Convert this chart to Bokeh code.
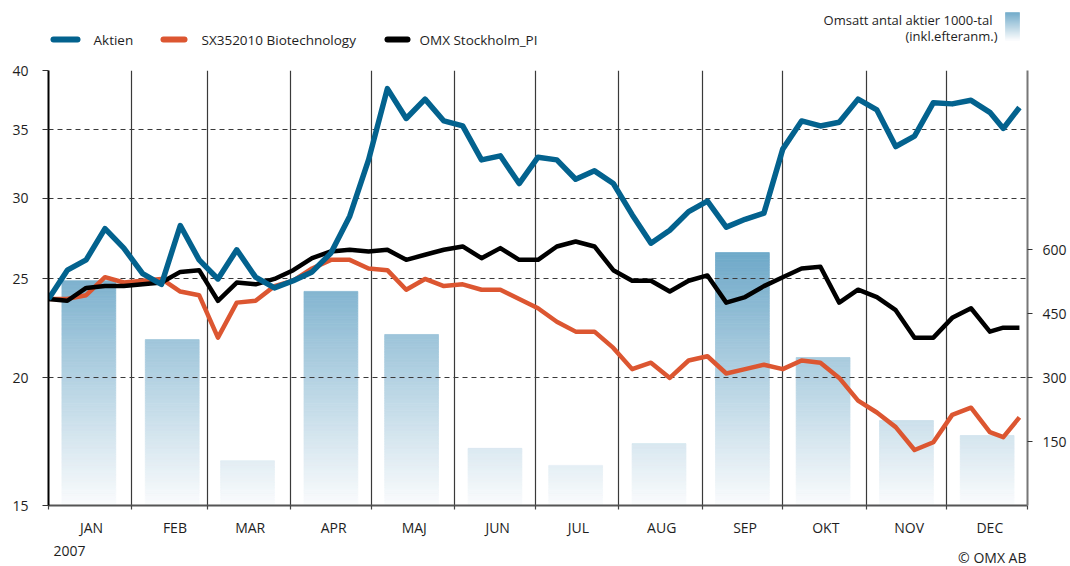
from bokeh.plotting import figure
from bokeh.models import (Range1d, LinearScale, LinearAxis, FixedTicker,
                          PrintfTickFormatter)
from bokeh.layouts import column
from bokeh.embed import file_html
from bokeh.resources import INLINE
from bokeh.core.properties import value

FONT = "Open Sans"
TXT = "#1e1e1e"
BLUE = "#03628e"
ORANGE = "#dc5631"
BLACK = "#000000"

# ---------------- data ----------------
months = ["JAN", "FEB", "MAR", "APR", "MAJ", "JUN", "JUL", "AUG", "SEP", "OKT", "NOV", "DEC"]
month_start = [0, 31, 59, 90, 120, 151, 181, 212, 243, 273, 304, 334]
year_days = 364
volume = [527, 389, 105, 502, 401, 134, 94, 145, 593, 347, 199, 164]   # 1000-tal

week_day = list(range(0, 351, 7)) + [355, 361]
aktien = [23.9, 25.5, 26.1, 28.0, 26.8, 25.3, 24.7, 28.2, 26.1, 25.0,
          26.7, 25.1, 24.5, 24.9, 25.4, 26.5, 28.8, 32.7, 38.4, 35.9,
          37.5, 35.7, 35.3, 32.7, 33.0, 31.0, 32.9, 32.7, 31.3, 31.9,
          31.0, 28.9, 27.1, 27.9, 29.1, 29.8, 28.1, 28.6, 29.0, 33.5,
          35.7, 35.3, 35.6, 37.5, 36.6, 33.7, 34.5, 37.2, 37.1, 37.4,
          36.4, 35.1, 36.8]
sx_biotech = [23.9, 23.9, 24.1, 25.1, 24.8, 24.9, 25.0, 24.3, 24.1, 21.9,
              23.7, 23.8, 24.6, 24.9, 25.6, 26.1, 26.1, 25.6, 25.5, 24.4,
              25.0, 24.6, 24.7, 24.4, 24.4, 23.9, 23.4, 22.7, 22.2, 22.2,
              21.4, 20.4, 20.7, 20.0, 20.8, 21.0, 20.2, 20.4, 20.6, 20.4,
              20.8, 20.7, 20.0, 19.0, 18.5, 17.9, 17.0, 17.3, 18.4, 18.7,
              17.7, 17.5, 18.3]
omx_pi = [23.9, 23.8, 24.5, 24.6, 24.6, 24.7, 24.8, 25.4, 25.5, 23.8,
          24.8, 24.7, 25.0, 25.5, 26.2, 26.6, 26.7, 26.6, 26.7, 26.1,
          26.4, 26.7, 26.9, 26.2, 26.8, 26.1, 26.1, 26.9, 27.2, 26.9,
          25.5, 24.9, 24.9, 24.3, 24.9, 25.2, 23.7, 24.0, 24.6, 25.1,
          25.6, 25.7, 23.7, 24.4, 24.0, 23.3, 21.9, 21.9, 22.9, 23.4,
          22.2, 22.4, 22.4]
series_names = ["Aktien", "SX352010 Biotechnology", "OMX Stockholm_PI"]
price_ticks = [15, 20, 25, 30, 35, 40]
price_grid = [20, 25, 30, 35, 40]
vol_ticks = [150, 300, 450, 600]
vol_max = 1020
year_label = "2007"
vol_title = ["Omsatt antal aktier 1000-tal", "(inkl.efteranm.)"]
source_note = "\u00a9 OMX AB"

# gradient colours for the volume bars
TOP_RGB = (104, 165, 198)
BOT_RGB = (251, 252, 253)
GRAD_FULL = 620.0


def grad(frac):
    frac = max(0.0, min(1.0, frac))
    r = [round(BOT_RGB[i] + (TOP_RGB[i] - BOT_RGB[i]) * frac) for i in range(3)]
    return "#%02x%02x%02x" % tuple(r)


W = 1070
FL, FW = 48, 979          # frame left / width in page pixels
FR = W - FL - FW          # right border

# ---------------- main chart ----------------
p = figure(frame_width=FW, frame_height=435,
           x_range=Range1d(0, year_days), y_range=Range1d(15, 40),
           y_axis_type="log", output_backend="svg", toolbar_location=None,
           min_border_left=FL, min_border_right=FR, min_border_top=8,
           min_border_bottom=35)
p.extra_y_ranges = {"vol": Range1d(0, vol_max)}
p.extra_y_scales = {"vol": LinearScale()}
p.outline_line_color = None
p.background_fill_color = "white"
p.border_fill_color = "white"

# volume bars (stacked slices to imitate vertical gradient)
STEP = 6
ql, qr, qb, qt, qc = [], [], [], [], []
for i, v in enumerate(volume):
    c = month_start[i] + 15
    lvl = 0.0
    while lvl < v:
        top = min(lvl + STEP, v)
        ql.append(c - 10)
        qr.append(c + 10)
        qb.append(lvl)
        qt.append(top)
        qc.append(grad(((lvl + top) / 2) / GRAD_FULL))
        lvl = top
bars = p.quad(left=ql, right=qr, bottom=qb, top=qt, fill_color=qc,
              line_color=qc, line_width=0.8, y_range_name="vol")
bars.level = "image"

# lines
p.line(week_day, sx_biotech, line_color=ORANGE, line_width=4.5, line_join="round")
p.line(week_day, omx_pi, line_color=BLACK, line_width=4.5, line_join="round")
p.line(week_day, aktien, line_color=BLUE, line_width=5.5, line_join="round")

# grids
p.ygrid.ticker = FixedTicker(ticks=price_grid)
p.ygrid.grid_line_color = "#3a3a3a"
p.ygrid.grid_line_dash = "5 4"
p.ygrid.grid_line_width = 1.2
p.xgrid.ticker = FixedTicker(ticks=month_start[1:])
p.xgrid.grid_line_color = "#3a3a3a"
p.xgrid.grid_line_width = 1.2

# x axis: month labels, small ticks at month boundaries
xa = p.xaxis[0]
xa.ticker = FixedTicker(ticks=[s + 16 for s in month_start],
                        minor_ticks=month_start + [year_days])
xa.major_label_overrides = {s + 16: m for s, m in zip(month_start, months)}
xa.major_tick_line_color = None
xa.major_tick_out = 0
xa.major_tick_in = 0
xa.minor_tick_line_color = "#444444"
xa.minor_tick_out = 4
xa.minor_tick_in = 0
xa.minor_tick_line_width = 1.2
xa.axis_line_color = "#555555"
xa.axis_line_width = 2
xa.major_label_standoff = 8
xa.major_label_text_font = FONT
xa.major_label_text_font_size = "14px"
xa.major_label_text_color = TXT

# left axis (log price)
ya = p.yaxis[0]
ya.ticker = FixedTicker(ticks=price_ticks)
ya.formatter = PrintfTickFormatter(format="%d")
ya.axis_line_color = "black"
ya.axis_line_width = 2
ya.major_tick_out = 6
ya.major_tick_in = 0
ya.major_tick_line_color = "#333333"
ya.minor_tick_line_color = None
ya.major_label_standoff = 14
ya.major_label_text_font = FONT
ya.major_label_text_font_size = "14px"
ya.major_label_text_color = TXT

# right axis (volume)
ra = LinearAxis(y_range_name="vol", ticker=FixedTicker(ticks=vol_ticks))
ra.axis_line_color = "#777777"
ra.axis_line_width = 2
ra.major_tick_out = 5
ra.major_tick_in = 0
ra.major_tick_line_color = "#333333"
ra.minor_tick_line_color = None
ra.major_label_standoff = 10
ra.major_label_text_font = FONT
ra.major_label_text_font_size = "14px"
ra.major_label_text_color = TXT
p.add_layout(ra, "right")


def strip(height):
    """A text strip whose frame coincides horizontally with the main frame,
    x expressed in page pixels, y growing downwards."""
    s = figure(width=W, height=height, x_range=Range1d(FL, FL + FW),
               y_range=Range1d(height, 0), output_backend="svg",
               toolbar_location=None, min_border_left=FL, min_border_right=FR,
               min_border_top=0, min_border_bottom=0,
               x_axis_location=None, y_axis_location=None)
    s.grid.visible = False
    s.outline_line_color = None
    return s


# ---------------- header (legend + volume key) ----------------
HH = 62
h = strip(HH)
h.segment(x0=[53, 163, 387], y0=[39, 39, 39], x1=[77, 184, 407], y1=[39, 39, 39],
          line_color=[BLUE, ORANGE, BLACK], line_width=6, line_cap="round")
h.text(x=[93, 201, 419], y=[39, 39, 39], text=series_names,
       text_font=value(FONT), text_font_size="13.5px", text_color=TXT,
       text_baseline="middle", text_align="left")
h.text(x=[992, 997], y=[19, 35], text=vol_title,
       text_font=value(FONT), text_font_size="13px", text_color=TXT,
       text_baseline="middle", text_align="right")

# gradient key box
kb, kt, kc = [], [], []
n = 28
for j in range(n):
    y0 = 12 + j
    kb.append(y0)
    kt.append(y0 + 1)
    kc.append(grad(1 - (j + 0.5) / n))
h.quad(left=[1005] * n, right=[1019] * n, top=kb, bottom=kt, fill_color=kc,
       line_color=kc, line_width=0.5)

# ---------------- footer (year + source) ----------------
FH = 566 - HH - (8 + 435 + 35)
f = strip(FH)
f.text(x=[53], y=[10], text=[year_label], text_font=value(FONT),
       text_font_size="14px", text_color=TXT, text_baseline="middle", text_align="left")
f.text(x=[1026], y=[17], text=[source_note], text_font=value(FONT),
       text_font_size="14px", text_color=TXT, text_baseline="middle", text_align="right")

layout = column(h, p, f, spacing=0)
open("out.html", "w").write(file_html(layout, INLINE))
